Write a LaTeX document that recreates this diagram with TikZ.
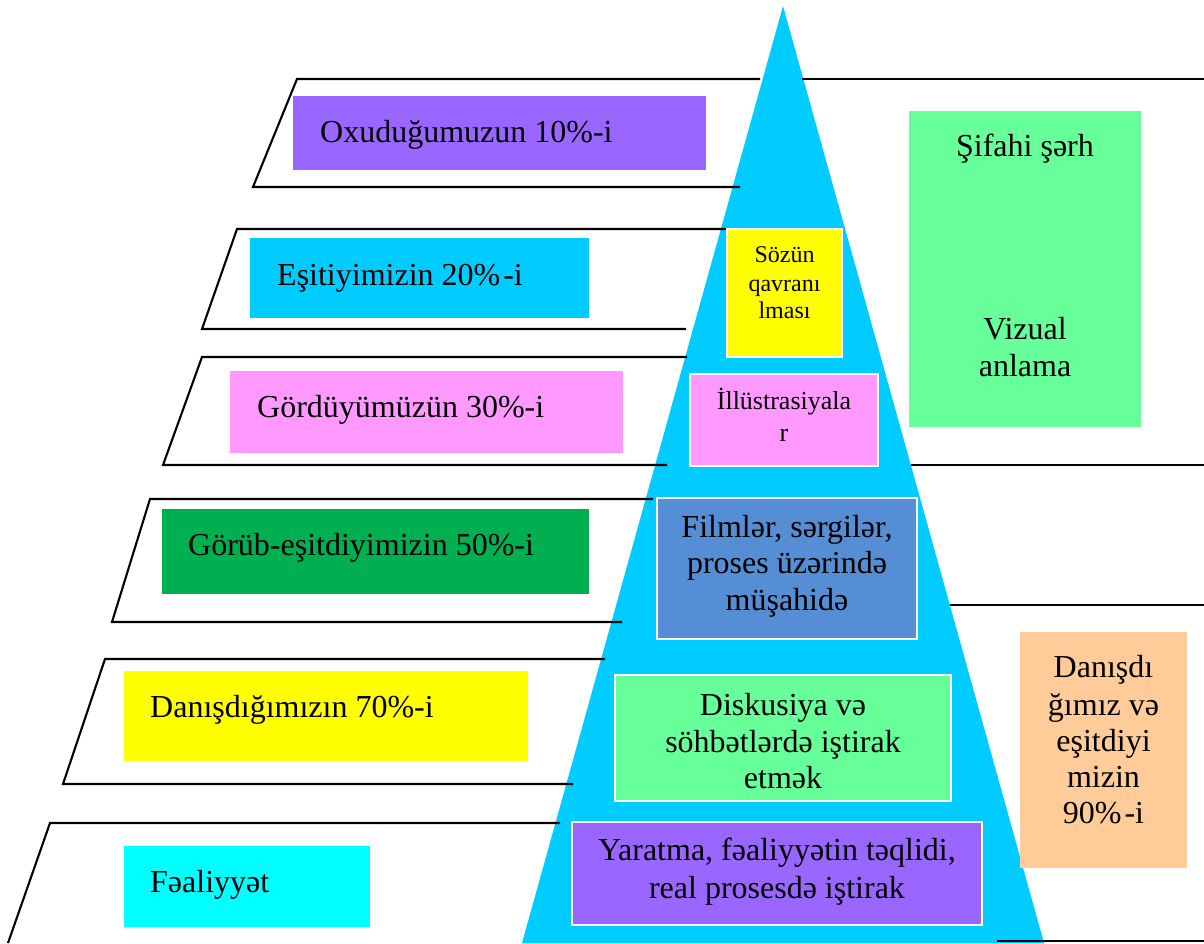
\documentclass[tikz,border=0pt]{standalone}
\usepackage{fontspec}
\setmainfont{Liberation Serif}
\definecolor{tri}{HTML}{00CCFF}
\definecolor{cpurple}{HTML}{9966FF}
\definecolor{cblue}{HTML}{00CCFF}
\definecolor{cpink}{HTML}{FF99FF}
\definecolor{cdgreen}{HTML}{00B050}
\definecolor{cyellow}{HTML}{FFFF00}
\definecolor{ccyan}{HTML}{00FFFF}
\definecolor{cfilm}{HTML}{558ED5}
\definecolor{clgreen}{HTML}{66FF99}
\definecolor{cpeach}{HTML}{FFCC99}
\begin{document}
\begin{tikzpicture}[x=1pt,y=-1pt,
  box/.style={inner sep=0pt, outer sep=0pt, anchor=north west},
  wbox/.style={box, draw=white, line width=1.5pt},
  band/.style={line width=2.1pt, black},
  lt/.style={font=\fontsize{32}{36}\selectfont, inner sep=0pt, anchor=base west},
  ct/.style={font=\fontsize{32}{36}\selectfont, inner sep=0pt, anchor=base},
  st/.style={font=\fontsize{24}{28}\selectfont, inner sep=0pt, anchor=base},
  mt/.style={font=\fontsize{26}{30}\selectfont, inner sep=0pt, anchor=base},
]
\useasboundingbox (0,0) rectangle (1204,943);
% pyramid
\fill[tri] (783,6) -- (522,943) -- (1044,943) -- cycle;
% left bands
\draw[band] (760,79) -- (297,79) -- (253,187) -- (740,187);
\draw[band] (726,229) -- (237,229) -- (202,329) -- (686,329);
\draw[band] (687,357) -- (202,357) -- (163,465) -- (667,465);
\draw[band] (653,499) -- (150,499) -- (112,622) -- (622,622);
\draw[band] (605,659) -- (105,659) -- (63,784) -- (573,784);
\draw[band] (560,823) -- (50,823) -- (8,943);
% right lines
\draw[band] (802,79) -- (1204,79);
\draw[band] (911,465) -- (1204,465);
\draw[band] (950,605) -- (1204,605);
\draw[band] (997,941) -- (1204,941);
% left boxes
\node[box, fill=cpurple, minimum width=413pt, minimum height=74pt] (b1) at (293,96) {};
\node[box, fill=cblue, minimum width=339pt, minimum height=80pt] (b2) at (250,238) {};
\node[box, fill=cpink, minimum width=393pt, minimum height=82pt] (b3) at (230,371) {};
\node[box, fill=cdgreen, minimum width=427pt, minimum height=85pt] (b4) at (162,509) {};
\node[box, fill=cyellow, minimum width=404pt, minimum height=90pt] (b5) at (124,671) {};
\node[box, fill=ccyan, minimum width=246pt, minimum height=81pt] (b6) at (124,846) {};
\node[lt] (t1) at (320,142) {Oxuduğumuzun 10\%-i};
\node[lt] (t2) at (277,285) {Eşitiyimizin 20\%\kern3pt-i};
\node[lt] (t3) at (257,417) {Gördüyümüzün 30\%-i};
\node[lt] (t4) at (188,555) {Görüb-eşitdiyimizin 50\%-i};
\node[lt] (t5) at (150,717) {Danışdığımızın 70\%-i};
\node[lt] (t6) at (150,892) {Fəaliyyət};
% pyramid boxes
\node[wbox, fill=cyellow, minimum width=115pt, minimum height=128pt] (p1) at (727,229) {};
\node[st] (p1a) at (784.5,262) {Sözün};
\node[st] (p1b) at (784.5,291) {qavranı};
\node[st] (p1c) at (784.5,318) {lması};
\node[wbox, fill=cpink, minimum width=188pt, minimum height=92pt] (p2) at (690,374) {};
\node[mt] (p2a) at (784,409) {İllüstrasiyala};
\node[mt] (p2b) at (784,441) {r};
\node[wbox, fill=cfilm, minimum width=260pt, minimum height=141pt] (p3) at (657,498) {};
\node[ct] (p3a) at (787,537) {Filmlər, sərgilər,};
\node[ct] (p3b) at (787,573) {proses üzərində};
\node[ct] (p3c) at (787,610) {müşahidə};
\node[wbox, fill=clgreen, minimum width=336pt, minimum height=126pt] (p4) at (615,675) {};
\node[ct] (p4a) at (783,715) {Diskusiya və};
\node[ct] (p4b) at (783,752) {söhbətlərdə iştirak};
\node[ct] (p4c) at (783,788) {etmək};
\node[wbox, fill=cpurple, minimum width=410pt, minimum height=103pt] (p5) at (572,822) {};
\node[ct] (p5a) at (777,860) {Yaratma, fəaliyyətin təqlidi,};
\node[ct] (p5b) at (777,898) {real prosesdə iştirak};
% right boxes
\node[box, fill=clgreen, minimum width=232pt, minimum height=316pt] (r1) at (909,111) {};
\node[ct] (r1a) at (1025,156) {Şifahi şərh};
\node[ct] (r1b) at (1025,339) {Vizual};
\node[ct] (r1c) at (1025,376) {anlama};
\node[box, fill=cpeach, minimum width=167pt, minimum height=236pt] (r2) at (1020,632) {};
\node[ct] (r2a) at (1103.5,677) {Danışdı};
\node[ct] (r2b) at (1103.5,715) {ğımız və};
\node[ct] (r2c) at (1103.5,751) {eşitdiyi};
\node[ct] (r2d) at (1103.5,787) {mizin};
\node[ct] (r2e) at (1103.5,823) {90\%\kern3pt-i};
\end{tikzpicture}
\end{document}
